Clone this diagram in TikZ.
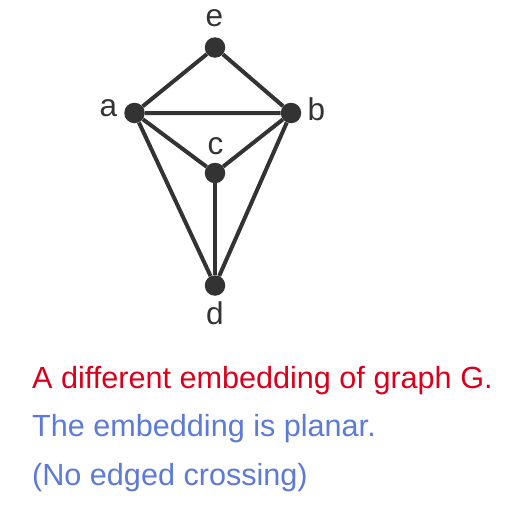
\documentclass[tikz,border=0pt]{standalone}
\usepackage{fontspec}
\setmainfont{Liberation Sans}
\usepackage{xcolor}
\usetikzlibrary{positioning}
\definecolor{graphred}{RGB}{218,0,27}
\definecolor{graphblue}{RGB}{92,122,216}
\definecolor{graphgray}{RGB}{51,51,51}

\begin{document}
\begin{tikzpicture}[x=1pt, y=-1pt,
  vertex/.style={circle, fill=graphgray, inner sep=0pt, minimum size=20.5pt},
  edge/.style={draw=graphgray, line width=4pt},
  lbl/.style={anchor=base, inner sep=0pt, text=graphgray, font=\fontsize{31.5}{36}\selectfont},
  caption/.style={anchor=base west, inner sep=0pt, font=\fontsize{30.6}{36}\selectfont}]
\useasboundingbox (0, 0) rectangle (512, 506);
\node [vertex] (e) at (215, 47.5) {};
\node [vertex] (a) at (134.5, 113) {};
\node [vertex] (b) at (291, 113) {};
\node [vertex] (c) at (215, 173) {};
\node [vertex] (d) at (215, 285.5) {};
\draw [edge] (a) -- (e) -- (b) -- (a);
\draw [edge] (a) -- (c) -- (b);
\draw [edge] (a) -- (d) -- (b);
\draw [edge] (c) -- (d);
\node [lbl] (la) at (108.5, 116.5) {a};
\node [lbl] (lb) at (316.5, 120.5) {b};
\node [lbl] (lc) at (215.5, 154) {c};
\node [lbl] (ld) at (215, 324.5) {d};
\node [lbl] (le) at (214.5, 26.5) {e};
\node [caption, text=graphred] (t1) at (32, 388) {A different embedding of graph G.};
\node [caption, text=graphblue] (t2) at (32, 436.5) {The embedding is planar.};
\node [caption, text=graphblue] (t3) at (32, 485) {(No edged crossing)};
\end{tikzpicture}
\end{document}
